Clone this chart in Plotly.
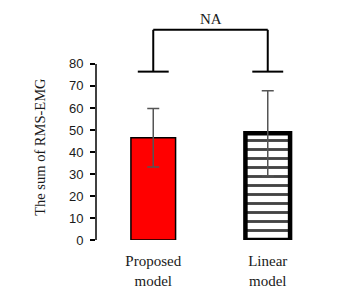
import plotly.graph_objects as go

categories = ["Proposed<br>model", "Linear<br>model"]
means = [46.5, 48.5]
errors = [13.3, 19.3]
y_ticks = [0, 10, 20, 30, 40, 50, 60, 70, 80]
bracket_top = 95.5
bracket_leg = 76.5
bracket_label = "NA"
y_title = "The sum of RMS-EMG"

SERIF = "Liberation Serif"
SANS = "Liberation Sans"
TXT = "#1a1a1a"

fig = go.Figure()
fig.add_trace(go.Bar(
    x=categories, y=means, width=0.39,
    marker=dict(
        color=["#ff0000", "#ffffff"],
        line=dict(color="#000000", width=[1.5, 4.5]),
        pattern=dict(shape=["", "-"], fgcolor="#000000", bgcolor="#ffffff",
                     size=9, solidity=0.32, fgopacity=1),
    ),
    error_y=dict(type="data", array=errors, visible=True, color="#555555",
                 thickness=1.5, width=6),
    showlegend=False,
))

lc = dict(color="#000000", width=2)
half = 0.135
shapes = []
for i in range(2):
    shapes.append(dict(type="line", xref="x", yref="y", x0=i - half, x1=i + half,
                       y0=bracket_leg, y1=bracket_leg, line=lc))
    shapes.append(dict(type="line", xref="x", yref="y", x0=i, x1=i,
                       y0=bracket_leg, y1=bracket_top, line=lc))
shapes.append(dict(type="line", xref="x", yref="y", x0=0, x1=1,
                   y0=bracket_top, y1=bracket_top, line=lc))
# y axis line from 0 to 80
shapes.append(dict(type="line", xref="paper", yref="y", x0=0, x1=0,
                   y0=y_ticks[0], y1=y_ticks[-1], line=dict(color="#000000", width=1.5)))

fig.update_layout(
    width=352, height=289,
    margin=dict(l=87.5, r=34.5, t=2, b=57),
    paper_bgcolor="white", plot_bgcolor="white",
    font=dict(family=SERIF, size=15, color=TXT),
    shapes=shapes,
    annotations=[
        dict(text=bracket_label, x=0.5, y=bracket_top, xref="x", yref="y",
             showarrow=False, yanchor="bottom", yshift=1,
             font=dict(family=SERIF, size=15, color=TXT)),
        dict(text=y_title, x=-0.245, y=(y_ticks[0] + y_ticks[-1]) / 2 + 2.3,
             xref="paper", yref="y", showarrow=False, textangle=-90,
             xanchor="center", yanchor="middle",
             font=dict(family=SERIF, size=14.5, color=TXT)),
    ],
    xaxis=dict(range=[-0.5, 1.5], showline=False, ticks="", showgrid=False,
               zeroline=False, ticklabelstandoff=10,
               tickfont=dict(family=SERIF, size=15, color=TXT)),
    yaxis=dict(range=[0, 104.5], tickvals=y_ticks, ticks="outside", ticklen=5,
               tickwidth=1.5, tickcolor="#000000", showline=False, showgrid=False,
               zeroline=False, ticklabelstandoff=4,
               tickfont=dict(family=SANS, size=13, color=TXT)),
)

fig.write_html("out.html")
